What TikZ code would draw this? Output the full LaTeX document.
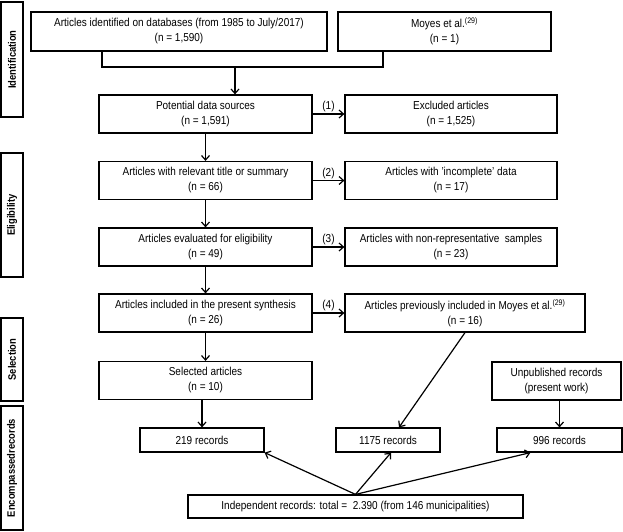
\documentclass[tikz,border=0pt]{standalone}
\usepackage{fontspec}
\setmainfont[FakeStretch=0.87]{Liberation Sans}
\usetikzlibrary{arrows.meta}
\usetikzlibrary{calc}

\tikzset{
  box/.style={draw, line width=1.2pt, align=center, inner sep=0pt,
    font=\fontsize{11.5}{15}\selectfont},
  phase/.style={draw, line width=1.2pt, rotate=90, inner sep=0pt,
    minimum height=22pt, font=\fontsize{10.8}{12}\selectfont\bfseries},
  link/.style={-{Straight Barb[length=4.5pt,width=8pt]}, line width=1.2pt},
}

\begin{document}
\begin{tikzpicture}[x=1pt,y=-1pt]
\useasboundingbox (0,0) rectangle (623,532);

% phases on the left
\node[phase, minimum width=115pt] (ident) at (12,59.5)  {Identification};
\node[phase, minimum width=124pt] (elig)  at (12,215)   {Eligibility};
\node[phase, minimum width=83pt]  (sel)   at (12,359.5) {Selection};
\node[phase, minimum width=124pt] (enc)   at (12,468)   {Encompassedrecords};

% sources
\node[box, minimum width=296pt, minimum height=39pt] (db) at (179,31.5)
  {Articles identified on databases (from 1985 to July/2017)\\(n = 1,590)};
\node[box, minimum width=213pt, minimum height=39pt] (moyes) at (444.5,31.5)
  {Moyes et al.\textsuperscript{(29)}\\(n = 1)};

% main column
\node[box, minimum width=213pt, minimum height=38pt] (potential) at (205.5,114)
  {Potential data sources\\(n = 1,591)};
\node[box, minimum width=213pt, minimum height=38pt] (relevant) at (205.5,180.5)
  {Articles with relevant title or summary\\(n = 66)};
\node[box, minimum width=213pt, minimum height=38pt] (evaluated) at (205.5,247)
  {Articles evaluated for eligibility\\(n = 49)};
\node[box, minimum width=213pt, minimum height=38pt] (included) at (205.5,313)
  {Articles included in the present synthesis\\(n = 26)};
\node[box, minimum width=213pt, minimum height=38pt] (selected) at (205.5,380.5)
  {Selected articles\\(n = 10)};

% excluded column
\node[box, minimum width=212pt, minimum height=38pt] (excluded) at (451,114)
  {Excluded articles\\(n = 1,525)};
\node[box, minimum width=212pt, minimum height=38pt] (incomplete) at (451,180.5)
  {Articles with 'incomplete' data\\(n = 17)};
\node[box, minimum width=212pt, minimum height=38pt] (nonrep) at (451,247)
  {Articles with non-representative\ \ samples\\(n = 23)};
\node[box, minimum width=240pt, minimum height=38pt] (previous) at (465,313)
  {Articles previously included in Moyes et al.\textsuperscript{(29)}\\(n = 16)};
\node[box, minimum width=129pt, minimum height=38pt] (unpub) at (556.5,381)
  {Unpublished records\\(present work)};

% records
\node[box, minimum width=124pt, minimum height=24pt] (r219)  at (202,440)   {219 records};
\node[box, minimum width=104pt, minimum height=24pt] (r1175) at (388,440)   {1175 records};
\node[box, minimum width=125pt, minimum height=24pt] (r996)  at (559.5,440) {996 records};
\node[box, minimum width=335pt, minimum height=23pt] (indep) at (355.5,506.5)
  {Independent records: total =\ \ 2.390 (from 146 municipalities)};

% merge of the two sources
\coordinate (join) at (235,67);
\draw[line width=1.2pt] (db.south -| 102,0) |- (join) -| (moyes.south -| 383,0);
\draw[link] (join) -- (join |- potential.north);

\foreach \a/\b in {potential/relevant,relevant/evaluated,evaluated/included,included/selected}
    \draw[link] (\a) -- (\b);
\foreach \a/\b/\n in {potential/excluded/1,relevant/incomplete/2,evaluated/nonrep/3,included/previous/4}
    \draw[link] (\a.east) -- node[above,inner sep=1.5pt,font=\fontsize{11.5}{12}\selectfont] {(\n)} (\a.east -| \b.west);

\draw[link] (r219.north |- selected.south) -- (r219.north);
\draw[link] (r996.north |- unpub.south) -- (r996.north);
\draw[link] (previous.south) -- ([xshift=11pt]r1175.north);

\draw[link] (indep.north) -- (r219.south east);
\draw[link] (indep.north) -- ([xshift=3pt]r1175.south);
\draw[link] (indep.north) -- ($(r996.south west)!0.27!(r996.south east)$);
\end{tikzpicture}
\end{document}
